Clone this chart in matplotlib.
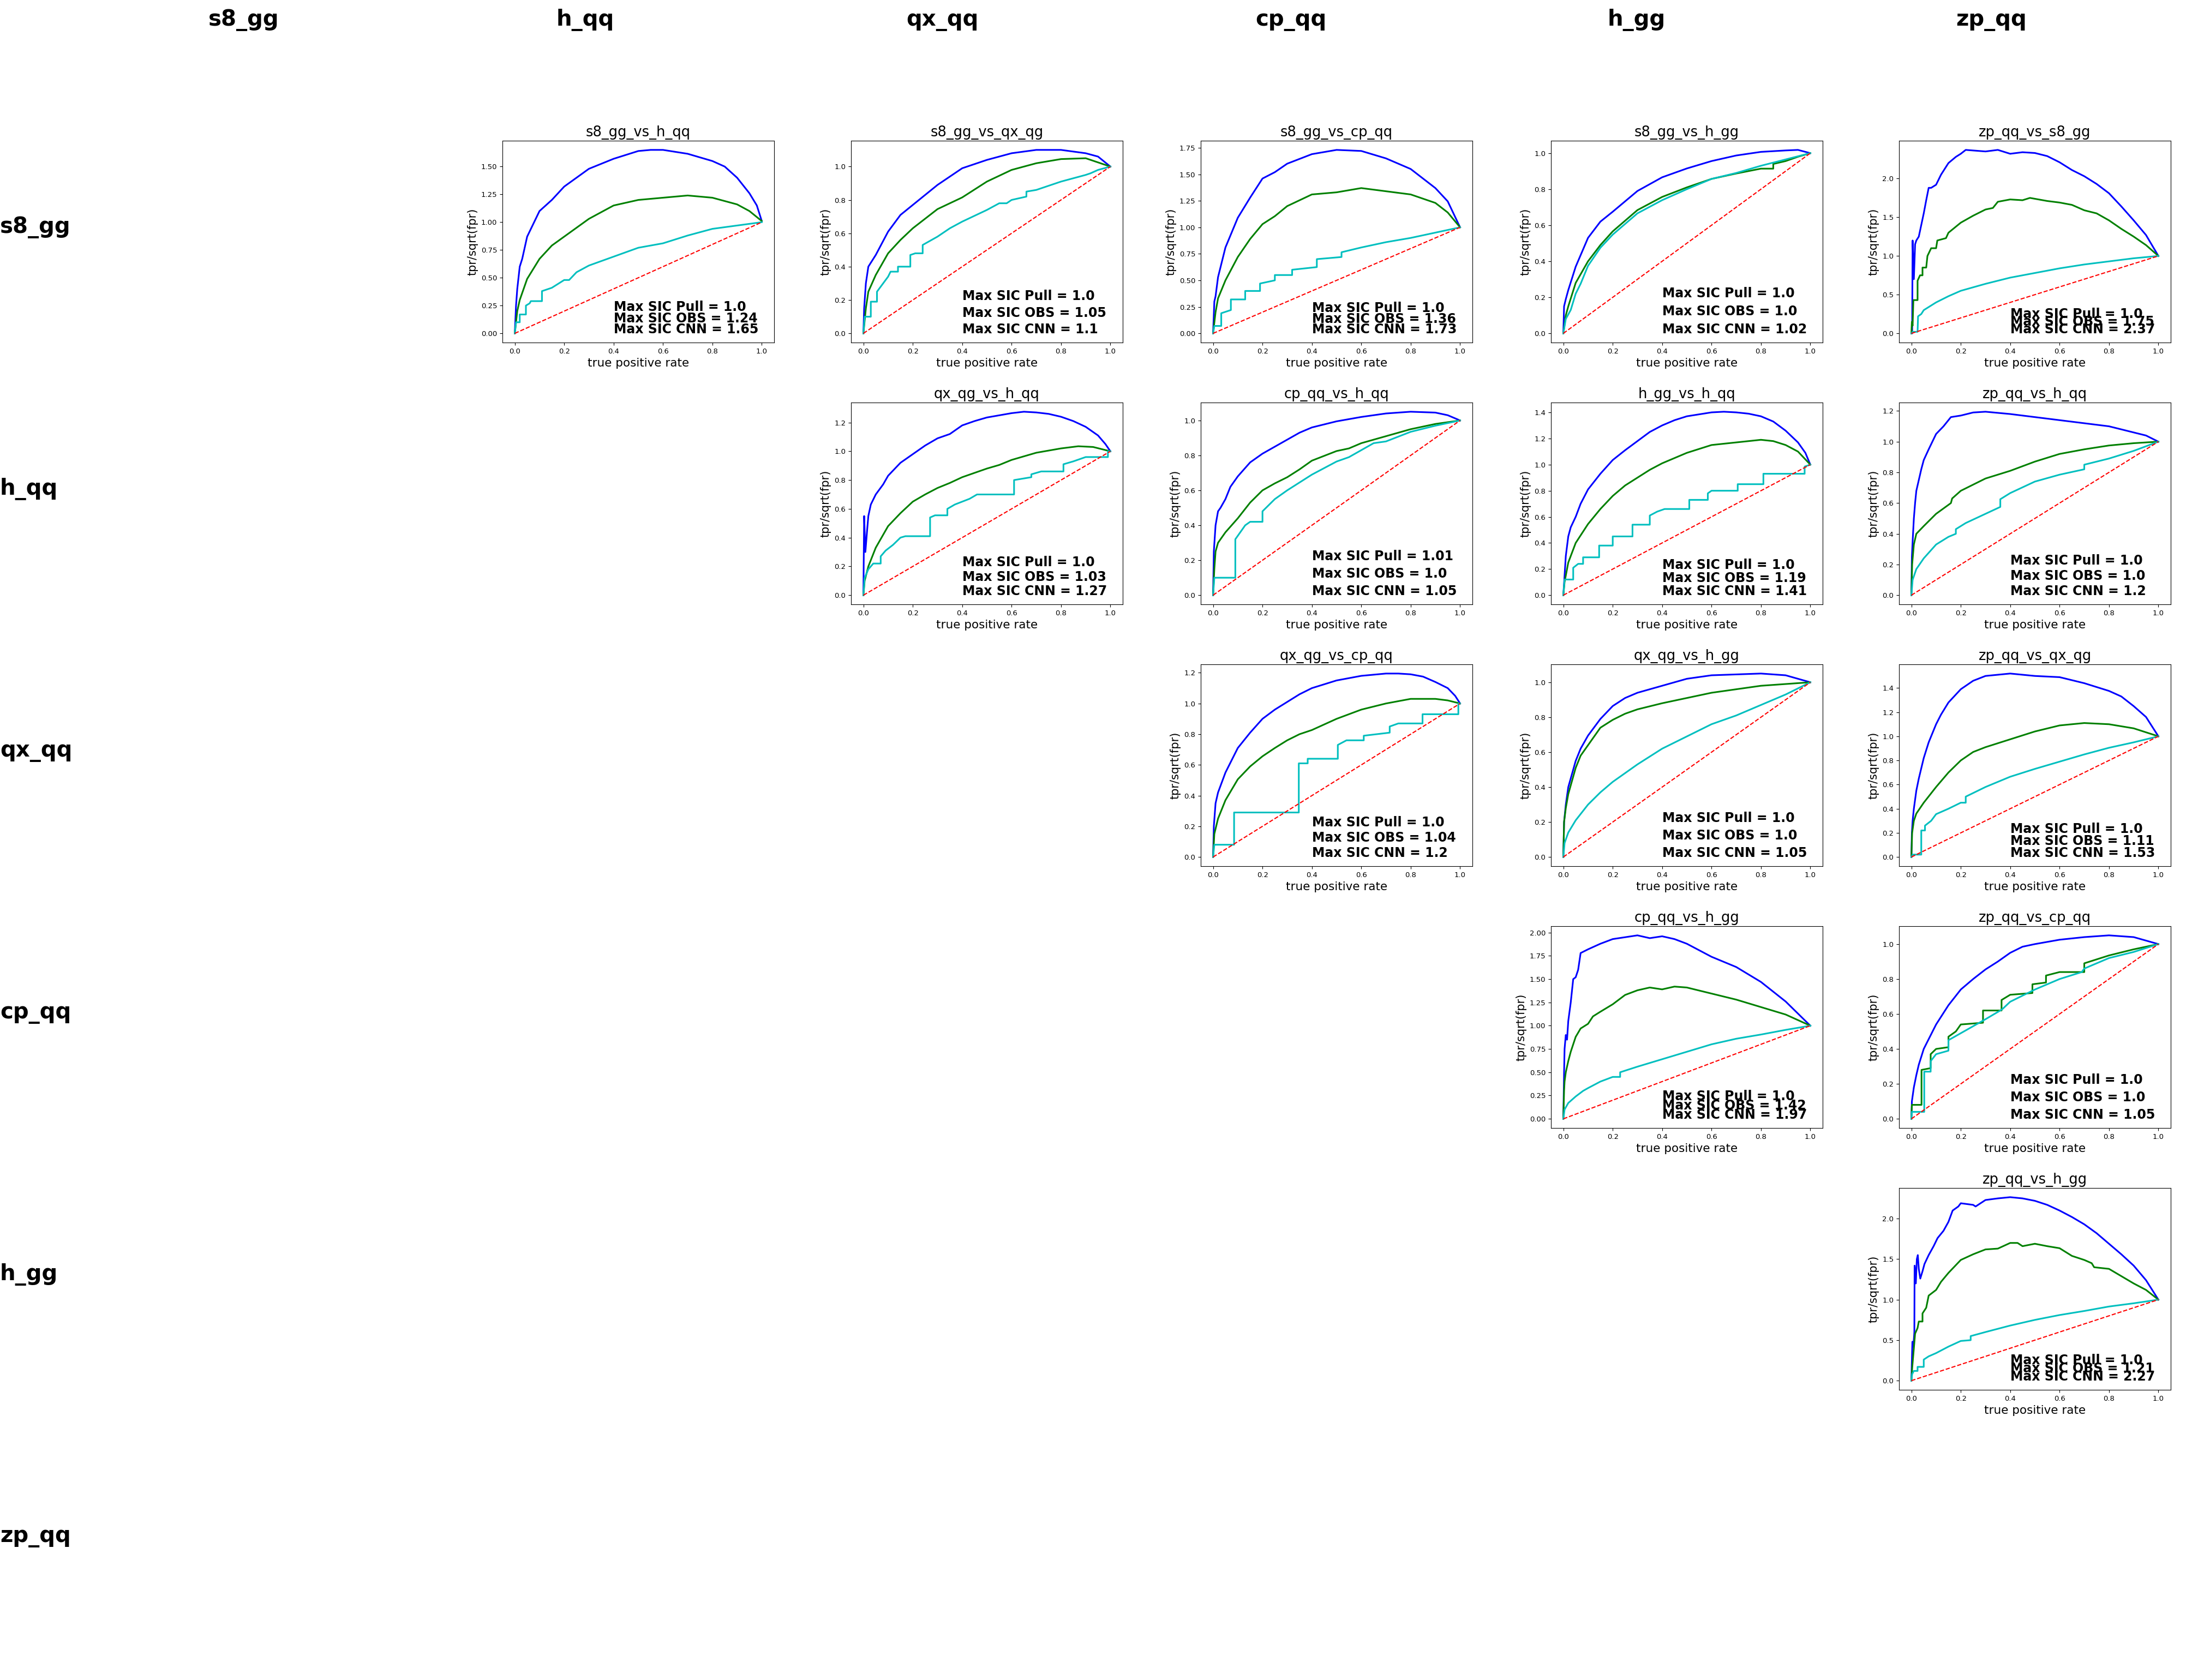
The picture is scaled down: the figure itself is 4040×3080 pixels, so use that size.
import matplotlib
matplotlib.use("Agg")
from matplotlib import pyplot as plt


# class names used for the row / column headers
row_names = ["s8_gg", "h_qq", "qx_qq", "cp_qq", "h_gg", "zp_qq"]
col_names = ["s8_gg", "h_qq", "qx_qq", "cp_qq", "h_gg", "zp_qq"]

# panel titles and grid cell (row, col) of every panel
panel_titles = [
    "s8_gg_vs_h_qq", "s8_gg_vs_qx_qg", "s8_gg_vs_cp_qq", "s8_gg_vs_h_gg", "zp_qq_vs_s8_gg",
    "qx_qg_vs_h_qq", "cp_qq_vs_h_qq", "h_gg_vs_h_qq", "zp_qq_vs_h_qq",
    "qx_qg_vs_cp_qq", "qx_qg_vs_h_gg", "zp_qq_vs_qx_qg",
    "cp_qq_vs_h_gg", "zp_qq_vs_cp_qq",
    "zp_qq_vs_h_gg",
]
panel_cells = [(0, 0), (0, 1), (0, 2), (0, 3), (0, 4),
               (1, 1), (1, 2), (1, 3), (1, 4),
               (2, 2), (2, 3), (2, 4),
               (3, 3), (3, 4),
               (4, 4)]

max_sic_pull = [1.0, 1.0, 1.0, 1.0, 1.0, 1.0, 1.01, 1.0, 1.0, 1.0, 1.0, 1.0, 1.0, 1.0, 1.0]
max_sic_obs = [1.24, 1.05, 1.36, 1.0, 1.75, 1.03, 1.0, 1.19, 1.0, 1.04, 1.0, 1.11, 1.42, 1.0, 1.21]
max_sic_cnn = [1.65, 1.1, 1.73, 1.02, 2.37, 1.27, 1.05, 1.41, 1.2, 1.2, 1.05, 1.53, 1.97, 1.05, 2.27]

# (tpr, tpr/sqrt(fpr))
s8_gg_vs_h_qq_cnn = [(0, 0), (0.005, 0.25), (0.01, 0.4), (0.02, 0.6), (0.03, 0.67), (0.05, 0.87), (0.1, 1.10),
                     (0.15, 1.20), (0.2, 1.32), (0.3, 1.48), (0.4, 1.57), (0.5, 1.64), (0.55, 1.65), (0.6, 1.65),
                     (0.7, 1.615), (0.8, 1.55), (0.85, 1.50), (0.9, 1.40), (0.95, 1.26), (0.98, 1.15), (1.0, 1.01)]
s8_gg_vs_h_qq_obs = [(0, 0), (0.01, 0.2), (0.02, 0.3), (0.05, 0.49), (0.1, 0.67), (0.15, 0.79), (0.2, 0.87),
                     (0.3, 1.03), (0.4, 1.15), (0.5, 1.20), (0.6, 1.22), (0.7, 1.24), (0.8, 1.22), (0.9, 1.16),
                     (0.95, 1.10), (1.0, 1.01)]
s8_gg_vs_h_qq_pull = [(0, 0), (0.005, 0.1), (0.02, 0.1), (0.02, 0.17), (0.045, 0.17), (0.045, 0.25), (0.06, 0.27),
                      (0.065, 0.29), (0.11, 0.29), (0.11, 0.38), (0.15, 0.41), (0.2, 0.48), (0.22, 0.48),
                      (0.25, 0.55), (0.3, 0.61), (0.4, 0.69), (0.5, 0.77), (0.6, 0.81), (0.7, 0.88), (0.8, 0.94),
                      (0.9, 0.97), (1.0, 1.0)]

s8_gg_vs_qx_qg_cnn = [(0, 0), (0.003, 0.15), (0.01, 0.30), (0.02, 0.40), (0.05, 0.47), (0.1, 0.61), (0.15, 0.71),
                      (0.2, 0.77), (0.3, 0.89), (0.4, 0.99), (0.5, 1.04), (0.6, 1.08), (0.7, 1.10), (0.8, 1.10),
                      (0.9, 1.08), (0.95, 1.06), (1.0, 1.0)]
s8_gg_vs_qx_qg_obs = [(0, 0), (0.01, 0.15), (0.02, 0.25), (0.05, 0.35), (0.1, 0.48), (0.15, 0.56), (0.2, 0.63),
                      (0.3, 0.745), (0.4, 0.815), (0.5, 0.91), (0.6, 0.98), (0.7, 1.02), (0.8, 1.045), (0.9, 1.05),
                      (1.0, 1.0)]
s8_gg_vs_qx_qg_pull = [(0, 0), (0.005, 0.1), (0.03, 0.1), (0.03, 0.19), (0.055, 0.19), (0.055, 0.25), (0.07, 0.28),
                       (0.09, 0.32), (0.1, 0.34), (0.11, 0.37), (0.14, 0.37), (0.14, 0.40), (0.19, 0.40),
                       (0.19, 0.47), (0.21, 0.48), (0.24, 0.48), (0.24, 0.53), (0.3, 0.58), (0.35, 0.63),
                       (0.4, 0.67), (0.5, 0.74), (0.55, 0.78), (0.58, 0.78), (0.6, 0.80), (0.66, 0.82),
                       (0.66, 0.85), (0.7, 0.86), (0.8, 0.91), (0.9, 0.95), (0.92, 0.96), (0.95, 0.98), (1.0, 1.0)]

s8_gg_vs_cp_qq_cnn = [(0, 0), (0.005, 0.3), (0.01, 0.35), (0.02, 0.53), (0.05, 0.81), (0.1, 1.09), (0.15, 1.28),
                      (0.2, 1.46), (0.25, 1.52), (0.3, 1.60), (0.4, 1.69), (0.5, 1.73), (0.6, 1.72), (0.7, 1.65),
                      (0.8, 1.55), (0.9, 1.37), (0.95, 1.245), (1.0, 1.0)]
s8_gg_vs_cp_qq_obs = [(0, 0), (0.01, 0.2), (0.02, 0.33), (0.05, 0.50), (0.1, 0.72), (0.15, 0.89), (0.2, 1.03),
                      (0.25, 1.105), (0.3, 1.20), (0.4, 1.31), (0.5, 1.33), (0.6, 1.37), (0.7, 1.34), (0.8, 1.31),
                      (0.9, 1.23), (0.95, 1.14), (1.0, 1.0)]
s8_gg_vs_cp_qq_pull = [(0, 0), (0.005, 0.07), (0.033, 0.07), (0.033, 0.19), (0.072, 0.22), (0.072, 0.32),
                       (0.13, 0.32), (0.13, 0.40), (0.19, 0.40), (0.19, 0.47), (0.25, 0.50), (0.25, 0.55),
                       (0.32, 0.55), (0.32, 0.60), (0.42, 0.625), (0.42, 0.70), (0.52, 0.72), (0.52, 0.765),
                       (0.6, 0.81), (0.7, 0.86), (0.8, 0.90), (0.9, 0.95), (1.0, 1.0)]

s8_gg_vs_h_gg_cnn = [(0, 0), (0.003, 0.15), (0.01, 0.19), (0.02, 0.24), (0.05, 0.37), (0.1, 0.53), (0.15, 0.62),
                     (0.2, 0.675), (0.3, 0.79), (0.4, 0.866), (0.5, 0.915), (0.6, 0.956), (0.7, 0.987),
                     (0.8, 1.007), (0.9, 1.015), (0.95, 1.018), (1.0, 1.0)]
s8_gg_vs_h_gg_obs = [(0, 0), (0.01, 0.1), (0.02, 0.15), (0.05, 0.28), (0.1, 0.40), (0.15, 0.49), (0.2, 0.566),
                     (0.3, 0.684), (0.4, 0.757), (0.5, 0.81), (0.6, 0.857), (0.7, 0.887), (0.8, 0.914),
                     (0.85, 0.914), (0.85, 0.94), (0.9, 0.956), (0.95, 0.98), (1.0, 1.0)]
s8_gg_vs_h_gg_pull = [(0, 0), (0.01, 0.08), (0.03, 0.13), (0.05, 0.22), (0.07, 0.275), (0.1, 0.375),
                      (0.15, 0.475), (0.2, 0.548), (0.3, 0.666), (0.4, 0.739), (0.5, 0.80), (0.6, 0.857),
                      (0.7, 0.89), (0.8, 0.93), (0.9, 0.965), (1.0, 1.0)]

zp_qq_vs_s8_gg_cnn = [(0, 0), (0.003, 0.0), (0.005, 1.2), (0.01, 0.7), (0.015, 1.15), (0.02, 1.2), (0.03, 1.25),
                      (0.04, 1.40), (0.05, 1.55), (0.06, 1.72), (0.07, 1.88), (0.08, 1.88), (0.1, 1.92),
                      (0.12, 2.05), (0.15, 2.20), (0.18, 2.28), (0.2, 2.32), (0.22, 2.37), (0.3, 2.35),
                      (0.35, 2.37), (0.4, 2.32), (0.45, 2.34), (0.5, 2.33), (0.55, 2.29), (0.6, 2.21),
                      (0.65, 2.11), (0.7, 2.03), (0.75, 1.93), (0.8, 1.81), (0.85, 1.64), (0.9, 1.46),
                      (0.95, 1.27), (1.0, 1.0)]
zp_qq_vs_s8_gg_obs = [(0, 0), (0.002, 0.15), (0.005, 0.1), (0.008, 0.43), (0.025, 0.43), (0.025, 0.68),
                      (0.035, 0.75), (0.045, 0.75), (0.045, 0.85), (0.06, 0.85), (0.065, 1.0), (0.08, 1.1),
                      (0.1, 1.1), (0.105, 1.2), (0.14, 1.23), (0.15, 1.3), (0.2, 1.43), (0.25, 1.52), (0.3, 1.6),
                      (0.33, 1.62), (0.35, 1.70), (0.4, 1.73), (0.45, 1.72), (0.48, 1.75), (0.55, 1.71),
                      (0.6, 1.69), (0.65, 1.66), (0.7, 1.59), (0.75, 1.55), (0.8, 1.46), (0.85, 1.35),
                      (0.9, 1.25), (0.95, 1.14), (1.0, 1.0)]
zp_qq_vs_s8_gg_pull = [(0, 0), (0.005, 0.02), (0.025, 0.02), (0.027, 0.22), (0.04, 0.25), (0.05, 0.3), (0.1, 0.4),
                       (0.15, 0.48), (0.2, 0.55), (0.3, 0.64), (0.4, 0.72), (0.5, 0.78), (0.6, 0.84), (0.7, 0.89),
                       (0.8, 0.93), (0.9, 0.97), (1.0, 1.0)]

qx_qg_vs_h_qq_cnn = [(0, 0), (0.003, 0.55), (0.008, 0.3), (0.015, 0.45), (0.02, 0.55), (0.03, 0.63), (0.05, 0.70),
                     (0.08, 0.77), (0.1, 0.83), (0.15, 0.92), (0.2, 0.98), (0.25, 1.04), (0.3, 1.09), (0.35, 1.12),
                     (0.4, 1.18), (0.45, 1.21), (0.5, 1.235), (0.55, 1.25), (0.6, 1.265), (0.65, 1.275),
                     (0.7, 1.27), (0.75, 1.26), (0.8, 1.24), (0.85, 1.21), (0.9, 1.17), (0.95, 1.11),
                     (0.98, 1.05), (1.0, 1.0)]
qx_qg_vs_h_qq_obs = [(0, 0), (0.005, 0.1), (0.02, 0.2), (0.05, 0.33), (0.1, 0.48), (0.15, 0.57), (0.2, 0.65),
                     (0.25, 0.70), (0.3, 0.745), (0.35, 0.78), (0.4, 0.82), (0.45, 0.85), (0.5, 0.88), (0.55, 0.905),
                     (0.6, 0.94), (0.7, 0.99), (0.8, 1.02), (0.87, 1.035), (0.93, 1.03), (1.0, 1.0)]
qx_qg_vs_h_qq_pull = [(0, 0), (0.005, 0.12), (0.02, 0.18), (0.04, 0.22), (0.07, 0.22), (0.07, 0.27), (0.09, 0.31),
                      (0.12, 0.35), (0.15, 0.40), (0.17, 0.41), (0.27, 0.41), (0.27, 0.54), (0.29, 0.555),
                      (0.34, 0.555), (0.34, 0.60), (0.37, 0.63), (0.4, 0.65), (0.43, 0.67), (0.46, 0.70),
                      (0.61, 0.70), (0.61, 0.80), (0.68, 0.82), (0.68, 0.84), (0.72, 0.86), (0.81, 0.86),
                      (0.81, 0.91), (0.85, 0.93), (0.9, 0.96), (0.99, 0.96), (0.99, 1.0), (1.0, 1.0)]

cp_qq_vs_h_qq_cnn = [(0, 0), (0.003, 0.25), (0.01, 0.40), (0.02, 0.48), (0.03, 0.50), (0.05, 0.55), (0.07, 0.62),
                     (0.1, 0.68), (0.15, 0.76), (0.2, 0.81), (0.25, 0.85), (0.3, 0.89), (0.35, 0.93), (0.4, 0.96),
                     (0.5, 0.995), (0.6, 1.02), (0.7, 1.04), (0.8, 1.05), (0.9, 1.045), (0.95, 1.03), (1.0, 1.0)]
cp_qq_vs_h_qq_obs = [(0, 0), (0.005, 0.15), (0.01, 0.25), (0.02, 0.30), (0.05, 0.36), (0.1, 0.44), (0.15, 0.53),
                     (0.2, 0.60), (0.25, 0.64), (0.3, 0.675), (0.35, 0.72), (0.4, 0.77), (0.5, 0.825), (0.55, 0.84),
                     (0.6, 0.87), (0.7, 0.91), (0.8, 0.95), (0.9, 0.98), (1.0, 1.0)]
cp_qq_vs_h_qq_pull = [(0, 0), (0.005, 0.1), (0.09, 0.1), (0.09, 0.32), (0.1, 0.34), (0.13, 0.40), (0.15, 0.42),
                      (0.2, 0.42), (0.2, 0.48), (0.25, 0.55), (0.3, 0.60), (0.35, 0.645), (0.4, 0.69),
                      (0.5, 0.765), (0.55, 0.79), (0.6, 0.83), (0.65, 0.87), (0.7, 0.88), (0.8, 0.935),
                      (0.9, 0.97), (1.0, 1.0)]

h_gg_vs_h_qq_cnn = [(0, 0), (0.005, 0.15), (0.01, 0.3), (0.02, 0.45), (0.03, 0.52), (0.05, 0.6), (0.07, 0.7),
                    (0.1, 0.81), (0.15, 0.93), (0.2, 1.035), (0.25, 1.11), (0.3, 1.18), (0.35, 1.25), (0.4, 1.30),
                    (0.45, 1.34), (0.5, 1.37), (0.55, 1.385), (0.6, 1.40), (0.65, 1.405), (0.7, 1.40),
                    (0.75, 1.39), (0.8, 1.37), (0.85, 1.33), (0.9, 1.26), (0.95, 1.17), (0.98, 1.09), (1.0, 1.0)]
h_gg_vs_h_qq_obs = [(0, 0), (0.005, 0.1), (0.02, 0.25), (0.05, 0.40), (0.1, 0.545), (0.15, 0.66), (0.2, 0.76),
                    (0.25, 0.84), (0.3, 0.90), (0.35, 0.96), (0.4, 1.01), (0.45, 1.05), (0.5, 1.09), (0.6, 1.15),
                    (0.7, 1.17), (0.8, 1.19), (0.85, 1.18), (0.9, 1.15), (0.95, 1.10), (1.0, 1.0)]
h_gg_vs_h_qq_pull = [(0, 0), (0.005, 0.12), (0.04, 0.12), (0.04, 0.21), (0.06, 0.24), (0.08, 0.24), (0.08, 0.29),
                     (0.145, 0.29), (0.145, 0.38), (0.2, 0.38), (0.2, 0.45), (0.28, 0.45), (0.28, 0.54),
                     (0.35, 0.54), (0.35, 0.61), (0.38, 0.64), (0.41, 0.66), (0.51, 0.66), (0.51, 0.73),
                     (0.585, 0.73), (0.585, 0.78), (0.6, 0.8), (0.706, 0.8), (0.706, 0.85), (0.81, 0.85),
                     (0.81, 0.93), (0.977, 0.93), (0.977, 0.985), (1.0, 1.0)]

zp_qq_vs_h_qq_cnn = [(0, 0), (0.002, 0.25), (0.005, 0.35), (0.01, 0.5), (0.015, 0.6), (0.02, 0.68), (0.03, 0.75),
                     (0.04, 0.82), (0.05, 0.88), (0.07, 0.95), (0.1, 1.05), (0.13, 1.10), (0.16, 1.16),
                     (0.2, 1.17), (0.25, 1.19), (0.3, 1.195), (0.4, 1.18), (0.5, 1.16), (0.6, 1.14), (0.7, 1.12),
                     (0.8, 1.10), (0.9, 1.06), (0.95, 1.04), (1.0, 1.0)]
zp_qq_vs_h_qq_obs = [(0, 0), (0.003, 0.2), (0.01, 0.33), (0.02, 0.40), (0.05, 0.45), (0.1, 0.53), (0.16, 0.6),
                     (0.165, 0.63), (0.2, 0.68), (0.3, 0.76), (0.4, 0.81), (0.5, 0.87), (0.6, 0.92), (0.7, 0.95),
                     (0.8, 0.975), (0.9, 0.99), (1.0, 1.0)]
zp_qq_vs_h_qq_pull = [(0, 0), (0.005, 0.1), (0.02, 0.17), (0.05, 0.24), (0.1, 0.33), (0.13, 0.36), (0.15, 0.38),
                      (0.18, 0.40), (0.18, 0.43), (0.22, 0.47), (0.3, 0.53), (0.36, 0.575), (0.36, 0.625),
                      (0.4, 0.665), (0.5, 0.74), (0.6, 0.785), (0.7, 0.82), (0.7, 0.85), (0.8, 0.89),
                      (0.9, 0.94), (1.0, 1.0)]

qx_qg_vs_cp_qq_cnn = [(0, 0), (0.003, 0.2), (0.01, 0.35), (0.02, 0.42), (0.05, 0.55), (0.1, 0.71), (0.15, 0.81),
                      (0.2, 0.90), (0.25, 0.96), (0.3, 1.01), (0.35, 1.06), (0.4, 1.10), (0.5, 1.15), (0.6, 1.18),
                      (0.7, 1.195), (0.75, 1.195), (0.8, 1.19), (0.85, 1.175), (0.9, 1.14), (0.95, 1.10),
                      (0.98, 1.05), (1.0, 1.0)]
qx_qg_vs_cp_qq_obs = [(0, 0), (0.005, 0.15), (0.02, 0.25), (0.05, 0.37), (0.1, 0.506), (0.15, 0.59), (0.2, 0.656),
                      (0.25, 0.71), (0.3, 0.76), (0.35, 0.80), (0.4, 0.827), (0.5, 0.90), (0.6, 0.96), (0.7, 1.00),
                      (0.8, 1.03), (0.9, 1.03), (0.95, 1.02), (1.0, 1.0)]
qx_qg_vs_cp_qq_pull = [(0, 0), (0.005, 0.08), (0.085, 0.08), (0.085, 0.29), (0.347, 0.29), (0.347, 0.61),
                       (0.383, 0.61), (0.383, 0.64), (0.505, 0.64), (0.505, 0.73), (0.54, 0.76), (0.61, 0.76),
                       (0.61, 0.79), (0.715, 0.81), (0.715, 0.85), (0.75, 0.87), (0.848, 0.87), (0.848, 0.93),
                       (0.993, 0.93), (0.993, 1.0), (1.0, 1.0)]

qx_qg_vs_h_gg_cnn = [(0, 0), (0.003, 0.2), (0.01, 0.3), (0.02, 0.4), (0.03, 0.45), (0.05, 0.55), (0.07, 0.62),
                     (0.1, 0.695), (0.15, 0.79), (0.2, 0.864), (0.25, 0.91), (0.3, 0.94), (0.35, 0.96), (0.4, 0.98),
                     (0.5, 1.02), (0.6, 1.04), (0.7, 1.045), (0.8, 1.05), (0.9, 1.04), (1.0, 1.0)]
qx_qg_vs_h_gg_obs = [(0, 0), (0.003, 0.2), (0.01, 0.28), (0.02, 0.36), (0.03, 0.41), (0.05, 0.51), (0.07, 0.58),
                     (0.1, 0.64), (0.15, 0.74), (0.2, 0.785), (0.25, 0.82), (0.3, 0.845), (0.4, 0.88), (0.5, 0.91),
                     (0.6, 0.94), (0.7, 0.96), (0.8, 0.98), (0.9, 0.99), (1.0, 1.0)]
qx_qg_vs_h_gg_pull = [(0, 0), (0.005, 0.08), (0.02, 0.14), (0.05, 0.21), (0.1, 0.30), (0.15, 0.37), (0.2, 0.43),
                      (0.25, 0.48), (0.3, 0.53), (0.35, 0.575), (0.4, 0.62), (0.5, 0.69), (0.6, 0.76), (0.7, 0.81),
                      (0.8, 0.87), (0.9, 0.93), (1.0, 1.0)]

zp_qq_vs_qx_qg_cnn = [(0, 0), (0.002, 0.2), (0.005, 0.3), (0.01, 0.4), (0.02, 0.55), (0.03, 0.65), (0.05, 0.82),
                      (0.07, 0.95), (0.1, 1.10), (0.12, 1.18), (0.15, 1.28), (0.2, 1.39), (0.25, 1.46), (0.3, 1.50),
                      (0.35, 1.51), (0.4, 1.52), (0.5, 1.50), (0.6, 1.49), (0.7, 1.44), (0.8, 1.376), (0.85, 1.33),
                      (0.9, 1.25), (0.95, 1.16), (1.0, 1.0)]
zp_qq_vs_qx_qg_obs = [(0, 0), (0.003, 0.2), (0.01, 0.3), (0.02, 0.36), (0.05, 0.45), (0.1, 0.58), (0.15, 0.70),
                      (0.2, 0.80), (0.25, 0.87), (0.3, 0.91), (0.4, 0.975), (0.5, 1.04), (0.6, 1.09), (0.7, 1.11),
                      (0.8, 1.10), (0.9, 1.066), (1.0, 1.0)]
zp_qq_vs_qx_qg_pull = [(0, 0), (0.005, 0.02), (0.04, 0.02), (0.04, 0.22), (0.055, 0.22), (0.055, 0.26),
                       (0.08, 0.30), (0.1, 0.355), (0.15, 0.4), (0.2, 0.45), (0.22, 0.45), (0.22, 0.5), (0.3, 0.58),
                       (0.4, 0.665), (0.5, 0.73), (0.6, 0.79), (0.7, 0.85), (0.8, 0.905), (0.9, 0.95), (1.0, 1.0)]

cp_qq_vs_h_gg_cnn = [(0, 0), (0.003, 0.5), (0.005, 0.75), (0.01, 0.9), (0.015, 0.85), (0.02, 1.05), (0.03, 1.25),
                     (0.04, 1.5), (0.05, 1.52), (0.06, 1.6), (0.07, 1.78), (0.1, 1.82), (0.15, 1.88), (0.2, 1.93),
                     (0.25, 1.95), (0.3, 1.97), (0.35, 1.94), (0.4, 1.96), (0.45, 1.93), (0.5, 1.88), (0.6, 1.74),
                     (0.7, 1.63), (0.8, 1.47), (0.9, 1.26), (0.95, 1.13), (1.0, 1.0)]
cp_qq_vs_h_gg_obs = [(0, 0), (0.003, 0.3), (0.005, 0.4), (0.01, 0.5), (0.02, 0.62), (0.03, 0.72), (0.05, 0.88),
                     (0.07, 0.97), (0.1, 1.02), (0.12, 1.1), (0.15, 1.15), (0.2, 1.23), (0.25, 1.33), (0.3, 1.38),
                     (0.35, 1.41), (0.4, 1.39), (0.45, 1.42), (0.5, 1.41), (0.6, 1.345), (0.7, 1.28), (0.8, 1.20),
                     (0.9, 1.12), (0.95, 1.06), (1.0, 1.0)]
cp_qq_vs_h_gg_pull = [(0, 0), (0.005, 0.1), (0.02, 0.17), (0.05, 0.24), (0.08, 0.3), (0.1, 0.33), (0.15, 0.40),
                      (0.2, 0.45), (0.23, 0.45), (0.23, 0.5), (0.3, 0.56), (0.4, 0.64), (0.5, 0.72), (0.6, 0.80),
                      (0.7, 0.86), (0.8, 0.905), (0.9, 0.955), (1.0, 1.0)]

zp_qq_vs_cp_qq_cnn = [(0, 0), (0.002, 0.1), (0.01, 0.18), (0.02, 0.25), (0.03, 0.31), (0.05, 0.40), (0.1, 0.54),
                      (0.15, 0.65), (0.2, 0.74), (0.25, 0.80), (0.3, 0.855), (0.35, 0.90), (0.4, 0.95),
                      (0.45, 0.985), (0.5, 1.0), (0.6, 1.025), (0.7, 1.04), (0.8, 1.05), (0.9, 1.04), (1.0, 1.0)]
zp_qq_vs_cp_qq_obs = [(0, 0), (0.002, 0.08), (0.041, 0.08), (0.041, 0.28), (0.078, 0.29), (0.078, 0.37),
                      (0.1, 0.4), (0.15, 0.41), (0.15, 0.47), (0.18, 0.5), (0.2, 0.54), (0.29, 0.55), (0.29, 0.62),
                      (0.365, 0.62), (0.365, 0.68), (0.4, 0.71), (0.49, 0.72), (0.49, 0.77), (0.545, 0.78),
                      (0.545, 0.82), (0.6, 0.84), (0.7, 0.84), (0.7, 0.89), (0.8, 0.935), (0.9, 0.97), (1.0, 1.0)]
zp_qq_vs_cp_qq_pull = [(0, 0), (0.002, 0.04), (0.052, 0.04), (0.052, 0.27), (0.078, 0.27), (0.078, 0.33),
                       (0.1, 0.37), (0.15, 0.39), (0.15, 0.45), (0.2, 0.49), (0.25, 0.53), (0.3, 0.57),
                       (0.36, 0.62), (0.37, 0.63), (0.4, 0.67), (0.5, 0.74), (0.55, 0.77), (0.6, 0.80),
                       (0.69, 0.84), (0.7, 0.86), (0.8, 0.92), (0.9, 0.955), (1.0, 1.0)]

zp_qq_vs_h_gg_cnn = [(0, 0), (0.002, 0.25), (0.004, 0.48), (0.008, 0.42), (0.012, 0.6), (0.013, 1.42),
                     (0.018, 1.2), (0.022, 1.5), (0.026, 1.55), (0.03, 1.38), (0.036, 1.26), (0.045, 1.35),
                     (0.053, 1.44), (0.07, 1.55), (0.09, 1.66), (0.106, 1.76), (0.13, 1.85), (0.15, 1.96),
                     (0.167, 2.10), (0.19, 2.15), (0.2, 2.19), (0.25, 2.17), (0.26, 2.15), (0.3, 2.23),
                     (0.35, 2.25), (0.4, 2.265), (0.45, 2.25), (0.5, 2.22), (0.55, 2.17), (0.6, 2.10), (0.65, 2.02),
                     (0.7, 1.93), (0.75, 1.82), (0.8, 1.69), (0.85, 1.56), (0.9, 1.42), (0.95, 1.24), (1.0, 1.0)]
zp_qq_vs_h_gg_obs = [(0, 0), (0.003, 0.15), (0.01, 0.4), (0.015, 0.58), (0.025, 0.65), (0.03, 0.73), (0.045, 0.73),
                     (0.045, 0.83), (0.06, 0.9), (0.07, 1.05), (0.1, 1.12), (0.12, 1.22), (0.15, 1.33), (0.2, 1.49),
                     (0.25, 1.56), (0.3, 1.62), (0.35, 1.63), (0.4, 1.70), (0.43, 1.7), (0.45, 1.66), (0.5, 1.69),
                     (0.55, 1.66), (0.6, 1.635), (0.65, 1.54), (0.7, 1.49), (0.73, 1.45), (0.74, 1.40),
                     (0.8, 1.38), (0.85, 1.29), (0.9, 1.20), (0.95, 1.12), (1.0, 1.0)]
zp_qq_vs_h_gg_pull = [(0, 0), (0.003, 0.08), (0.01, 0.12), (0.025, 0.12), (0.025, 0.17), (0.05, 0.17),
                      (0.05, 0.26), (0.07, 0.3), (0.1, 0.34), (0.15, 0.42), (0.2, 0.49), (0.24, 0.50), (0.24, 0.55),
                      (0.3, 0.60), (0.4, 0.68), (0.5, 0.75), (0.6, 0.81), (0.7, 0.86), (0.8, 0.915), (0.9, 0.955),
                      (1.0, 1.0)]

cnn_curves = [s8_gg_vs_h_qq_cnn, s8_gg_vs_qx_qg_cnn, s8_gg_vs_cp_qq_cnn, s8_gg_vs_h_gg_cnn, zp_qq_vs_s8_gg_cnn,
              qx_qg_vs_h_qq_cnn, cp_qq_vs_h_qq_cnn, h_gg_vs_h_qq_cnn, zp_qq_vs_h_qq_cnn,
              qx_qg_vs_cp_qq_cnn, qx_qg_vs_h_gg_cnn, zp_qq_vs_qx_qg_cnn,
              cp_qq_vs_h_gg_cnn, zp_qq_vs_cp_qq_cnn, zp_qq_vs_h_gg_cnn]
obs_curves = [s8_gg_vs_h_qq_obs, s8_gg_vs_qx_qg_obs, s8_gg_vs_cp_qq_obs, s8_gg_vs_h_gg_obs, zp_qq_vs_s8_gg_obs,
              qx_qg_vs_h_qq_obs, cp_qq_vs_h_qq_obs, h_gg_vs_h_qq_obs, zp_qq_vs_h_qq_obs,
              qx_qg_vs_cp_qq_obs, qx_qg_vs_h_gg_obs, zp_qq_vs_qx_qg_obs,
              cp_qq_vs_h_gg_obs, zp_qq_vs_cp_qq_obs, zp_qq_vs_h_gg_obs]
pull_curves = [s8_gg_vs_h_qq_pull, s8_gg_vs_qx_qg_pull, s8_gg_vs_cp_qq_pull, s8_gg_vs_h_gg_pull, zp_qq_vs_s8_gg_pull,
               qx_qg_vs_h_qq_pull, cp_qq_vs_h_qq_pull, h_gg_vs_h_qq_pull, zp_qq_vs_h_qq_pull,
               qx_qg_vs_cp_qq_pull, qx_qg_vs_h_gg_pull, zp_qq_vs_qx_qg_pull,
               cp_qq_vs_h_gg_pull, zp_qq_vs_cp_qq_pull, zp_qq_vs_h_gg_pull]


# figure geometry in pixels (figure is 4040 x 3080 at dpi 100)
W_PX, H_PX = 4040, 3080
col_left = [921, 1560, 2201, 2843, 3481]
row_top = [258, 738, 1218, 1698, 2178]
ax_w, ax_h = 498, 370
header_x = [447, 1073, 1727, 2366, 3000, 3650]
header_base = 47
row_base = [427, 907, 1387, 1867, 2347, 2827]

fig = plt.figure(figsize=(W_PX / 100, H_PX / 100), dpi=100)

for name, x in zip(col_names, header_x):
    fig.text(x / W_PX, 1 - header_base / H_PX, name, ha="center", va="baseline",
             fontsize=29, fontweight="bold")
for name, y in zip(row_names, row_base):
    fig.text(0.0, 1 - y / H_PX, name, ha="left", va="baseline", fontsize=29, fontweight="bold")

for i, (r, c) in enumerate(panel_cells):
    ax = fig.add_axes([col_left[c] / W_PX, 1 - (row_top[r] + ax_h) / H_PX, ax_w / W_PX, ax_h / H_PX])
    for pts, col in [(cnn_curves[i], "b"), (obs_curves[i], "g"), (pull_curves[i], "c")]:
        xs, ys = zip(*pts)
        ax.plot(xs, ys, color=col, linewidth=2.2)
    ax.plot([0, 1], [0, 1], "r--", linewidth=1.5)
    ax.set_xticks([0.0, 0.2, 0.4, 0.6, 0.8, 1.0])
    ax.tick_params(labelsize=9.5)
    ax.set_title(panel_titles[i], fontsize=18.5)
    ax.set_xlabel("true positive rate", fontsize=15.5)
    ax.set_ylabel("tpr/sqrt(fpr)", fontsize=15)
    ax.text(0.4, 0.2, f"Max SIC Pull = {max_sic_pull[i]}", fontsize=17, fontweight="bold")
    ax.text(0.4, 0.1, f"Max SIC OBS = {max_sic_obs[i]}", fontsize=17, fontweight="bold")
    ax.text(0.4, 0.0, f"Max SIC CNN = {max_sic_cnn[i]}", fontsize=17, fontweight="bold")

fig.savefig("out.png", dpi=100)
